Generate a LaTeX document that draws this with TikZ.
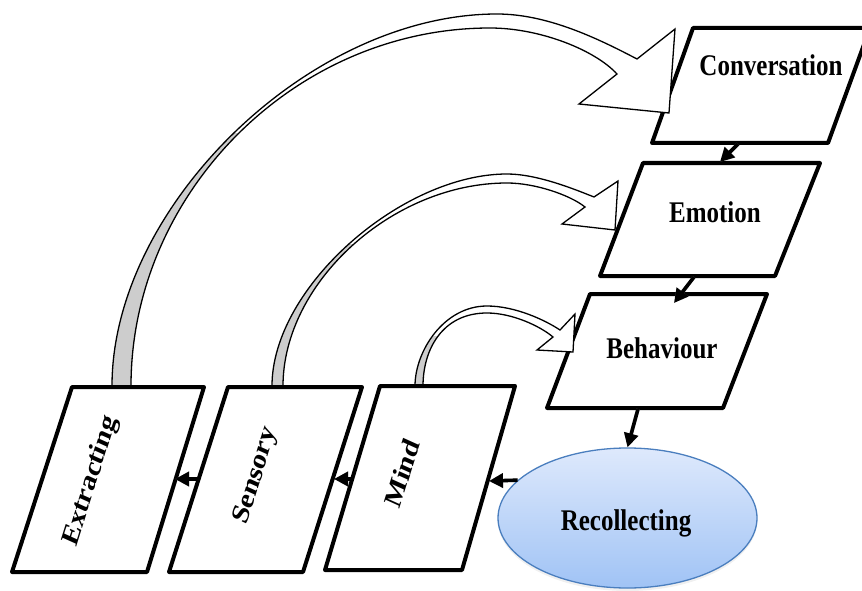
\documentclass[tikz,border=0pt]{standalone}
\usepackage{graphicx}
\usepackage{fontspec}
\setmainfont{Liberation Serif}
\usetikzlibrary{arrows.meta,shapes.geometric,shadows}

\definecolor{ovalTop}{RGB}{222,233,252}
\definecolor{ovalBottom}{RGB}{160,195,245}
\definecolor{ovalRim}{RGB}{74,126,190}
\definecolor{backface}{RGB}{205,205,205}

% labels are set a little taller than wide
\newcommand\vstretch[1]{\scalebox{1}[1.2]{#1}}

% hollow curved block arrow: its closed outline, and the clip region of the shaded back face
\newcommand\ribbonarrow[2]{%
  \fill[white] #1;
  \begin{scope}
    \clip #2;
    \fill[backface] #1;
  \end{scope}
  \draw[ribbon] #1;
}

\begin{document}
\begin{tikzpicture}[x=1pt,y=-1pt,
  box/.style={draw=black, line width=4pt, fill=white, line join=round},
  lbl/.style={font=\fontsize{25}{25}\selectfont\bfseries, inner sep=0pt},
  link/.style={line width=3.6pt, -{Triangle[length=14pt,width=14pt]}},
  linkshadow/.style={line width=3.6pt, -{Triangle[length=14pt,width=14pt]}, draw=black!35, opacity=0.5},
  ribbon/.style={draw=black, line width=1.3pt, line join=miter}
]
\useasboundingbox (0,0) rectangle (862,591);

% right column
\draw[box] (693,28) -- (870,28) -- (828,143) -- (652,143) -- cycle;
\draw[box] (643,163) -- (820,163) -- (775,276) -- (600,276) -- cycle;
\draw[box] (590,294) -- (767,294) -- (723,408) -- (547,408) -- cycle;

% curved block arrows
\ribbonarrow
  {(112,386) .. controls (112,207) and (309,14) .. (497,14)
     .. controls (547,14) and (597,38) .. (637,59)
     -- (675,29) -- (669,113) -- (579,104) -- (617,74)
     .. controls (595,50) and (540,28) .. (490,28)
     .. controls (294,28) and (131,194) .. (131,386) -- cycle}
  {(0,134) rectangle (300,395)}
\ribbonarrow
  {(272,386) .. controls (272,287) and (402,174) .. (507,174)
     .. controls (537,174) and (574,189) .. (594,197)
     -- (618,181) -- (615,230) -- (562,224) -- (585,207)
     .. controls (570,195) and (535,183) .. (507,183)
     .. controls (392,183) and (283,283) .. (283,386) -- cycle}
  {(250,244) rectangle (400,395)}
\ribbonarrow
  {(415,386) .. controls (415,351) and (444,306) .. (487,306)
     .. controls (515,306) and (545,320) .. (560,330)
     -- (575,314) -- (573,352) -- (537,350) -- (553,337)
     .. controls (540,326) and (512,313) .. (487,313)
     .. controls (442,313) and (423,350) .. (423,386) -- cycle}
  {(400,336) rectangle (450,395)}

% bottom row
\draw[box] (72,387) -- (204,387) -- (147,572) -- (12,572) -- cycle;
\draw[box] (228,387) -- (362,387) -- (303,572) -- (169,572) -- cycle;
\draw[box] (380,386) -- (515,386) -- (462,570) -- (325,570) -- cycle;

% labels
\node[lbl] (conv) at (771,65) {\vstretch{Conversation}};
\node[lbl] (emo) at (715,212) {\vstretch{Emotion}};
\node[lbl] (beh) at (662,348) {\vstretch{Behaviour}};
\node[lbl] (ext) at (91,481) {\vstretch{\rotatebox{69.4}{Extracting}}};
\node[lbl] (sen) at (256,476) {\vstretch{\rotatebox{69.4}{Sensory}}};
\node[lbl] (mnd) at (402,473) {\vstretch{\rotatebox{69.4}{Mind}}};

% recollecting oval
\node[ellipse, draw=ovalRim, line width=1.3pt, top color=ovalTop, bottom color=ovalBottom,
      minimum width=259pt, minimum height=140pt, inner sep=0pt,
      drop shadow={opacity=0.12, shadow xshift=0pt, shadow yshift=-3pt}] (rec) at (627.5,518) {};
\node[lbl] (recl) at (626,523) {\vstretch{Recollecting}};

% edge points of the boxes
\coordinate (conv-s) at (738,144);
\coordinate (emo-n) at (720,162);
\coordinate (emo-s) at (694,277);
\coordinate (beh-n) at (674,303);
\coordinate (beh-s) at (638,409);
\coordinate (mnd-e) at (489,481);
\coordinate (mnd-w) at (353,479);
\coordinate (sen-e) at (334,479);
\coordinate (sen-w) at (199,479);
\coordinate (ext-e) at (175,479);

% flow links
\begin{scope}[shift={(2,3)}]
  \draw[linkshadow] (conv-s) -- (emo-n);
  \draw[linkshadow] (emo-s) -- (beh-n);
  \draw[linkshadow] (beh-s) -- (rec.north);
  \draw[linkshadow] (rec.161) -- (mnd-e);
  \draw[linkshadow] (mnd-w) -- (sen-e);
  \draw[linkshadow] (sen-w) -- (ext-e);
\end{scope}
\draw[link] (conv-s) -- (emo-n);
\draw[link] (emo-s) -- (beh-n);
\draw[link] (beh-s) -- (rec.north);
\draw[link] (rec.161) -- (mnd-e);
\draw[link] (mnd-w) -- (sen-e);
\draw[link] (sen-w) -- (ext-e);
\end{tikzpicture}
\end{document}
